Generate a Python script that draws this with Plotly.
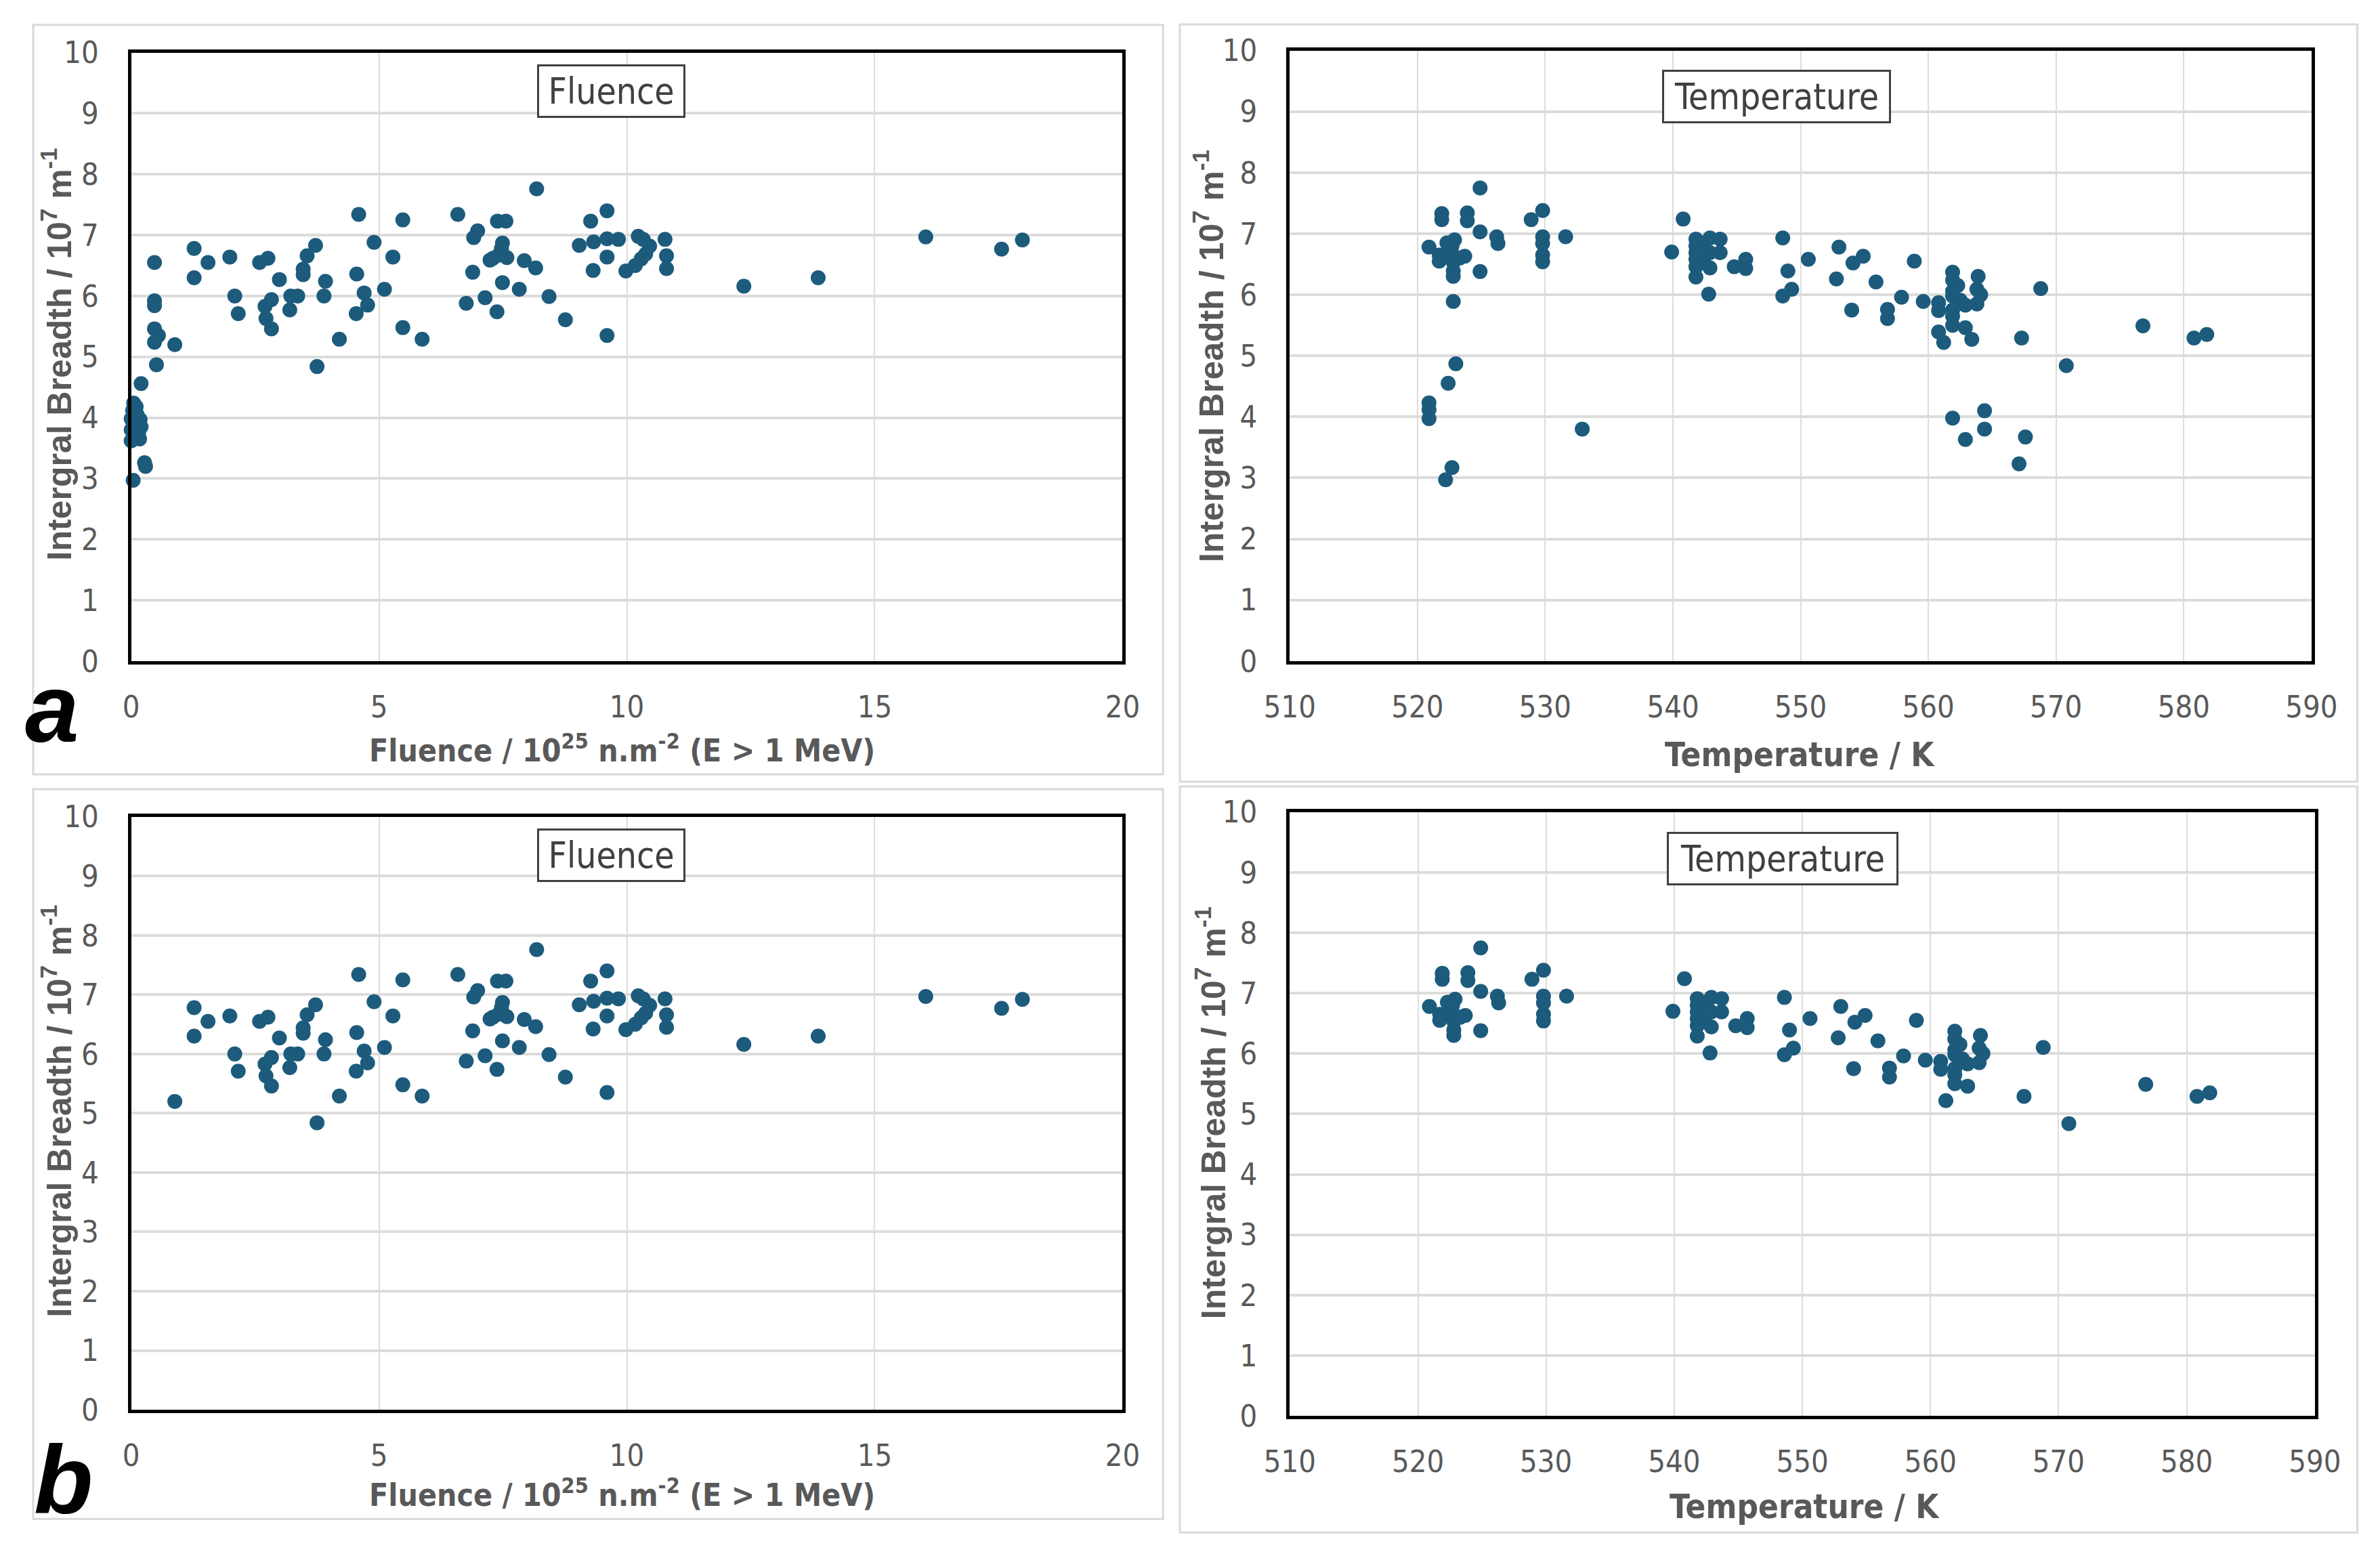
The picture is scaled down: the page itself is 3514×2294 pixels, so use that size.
import plotly.graph_objects as go

# ---- data (breadth in 10^7 m^-1) ----
# fluence points present in both panel a and panel b
fluence = [0.88, 1.27, 1.27, 1.55, 1.99, 2.09, 2.16, 2.59, 2.76, 2.99,
           3.47, 3.47, 3.55, 3.72, 3.92, 3.89, 3.75, 2.83, 2.70, 2.72,
           2.83, 3.22, 3.36, 3.20, 4.20, 4.59, 4.90, 4.55, 4.70, 4.77,
           4.54, 5.28, 5.11, 5.48, 5.48, 5.87, 6.59, 6.91, 6.99, 7.49,
           7.39, 7.56, 7.24, 7.41, 7.58, 7.93, 8.16, 8.18, 6.89, 7.49,
           7.83, 7.14, 6.76, 7.38, 8.43, 8.76, 9.60, 9.60, 9.27, 9.04,
           9.33, 9.60, 9.83, 9.60, 9.32, 10.23, 10.33, 10.46, 10.38, 10.29,
           10.17, 9.98, 10.77, 10.80, 10.80, 12.36, 13.86, 16.03, 17.56, 17.98,
           7.30, 7.47]
fluence_breadth = [5.20, 6.78, 6.30, 6.55, 6.64, 6.00, 5.71, 6.55, 6.62, 6.27,
                   6.44, 6.35, 6.66, 6.83, 6.24, 6.00, 4.84, 5.94, 5.83, 5.63,
                   5.46, 6.00, 6.00, 5.77, 5.29, 7.34, 6.88, 6.36, 6.05, 5.85,
                   5.71, 6.64, 6.11, 7.25, 5.48, 5.29, 7.34, 6.96, 7.07, 6.87,
                   7.23, 7.23, 6.59, 6.67, 6.63, 6.58, 6.46, 7.76, 6.39, 6.22,
                   6.11, 5.97, 5.88, 5.74, 5.99, 5.61, 5.35, 7.40, 7.23, 6.83,
                   6.89, 6.94, 6.93, 6.64, 6.42, 6.98, 6.93, 6.82, 6.69, 6.61,
                   6.50, 6.41, 6.93, 6.66, 6.45, 6.16, 6.30, 6.97, 6.77, 6.92,
                   6.62, 6.78]

# low-fluence points, shown only in panel a
fluence_low = [0.47, 0.47, 0.47, 0.47, 0.55, 0.47, 0.51, 0.20,
               0.05, 0.10, 0.03, 0.12, 0.00, 0.18, 0.05, 0.20, 0.00,
               0.15, 0.05, 0.17, 0.00, 0.27, 0.29, 0.04]
fluence_low_breadth = [6.55, 5.92, 5.84, 5.46, 5.35, 5.24, 4.87, 4.56,
                       4.24, 4.18, 4.12, 4.05, 3.98, 3.97, 3.90, 3.85, 3.80,
                       3.75, 3.68, 3.65, 3.62, 3.26, 3.20, 2.97]

# temperature points present in both panels
temperature = [524.9, 521.9, 521.9, 523.9, 523.9, 524.9, 526.2, 526.3, 520.9, 522.3,
               522.9, 522.7, 521.7, 522.2, 522.8, 523.7, 521.7, 522.8, 523.3, 522.8,
               522.8, 524.9, 528.9, 529.8, 529.8, 529.8, 529.8, 529.8, 531.6, 540.8,
               539.9, 541.8, 541.8, 541.8, 541.8, 541.8, 541.8, 542.4, 542.9, 543.7,
               542.9, 543.7, 542.4, 542.9, 542.8, 544.8, 545.7, 545.7, 548.6, 549.0,
               548.6, 549.3, 550.6, 553.0, 552.8, 554.1, 554.9, 554.0, 555.9, 556.8,
               556.8, 557.9, 558.9, 559.6, 560.8, 560.8, 561.2, 561.9, 561.9, 562.3,
               561.9, 561.9, 562.5, 562.9, 561.9, 561.9, 561.9, 562.9, 563.9, 563.8,
               564.1, 563.8, 568.8, 567.3, 570.8, 576.8, 580.8, 581.8]
temperature_breadth = [7.75, 7.33, 7.23, 7.34, 7.21, 7.03, 6.95, 6.84, 6.78, 6.85,
                       6.90, 6.80, 6.65, 6.65, 6.65, 6.63, 6.55, 6.53, 6.60, 6.39,
                       6.30, 6.38, 7.23, 7.38, 6.95, 6.84, 6.65, 6.54, 6.95, 7.24,
                       6.70, 6.91, 6.80, 6.69, 6.58, 6.46, 6.29, 6.85, 6.93, 6.91,
                       6.69, 6.69, 6.55, 6.44, 6.01, 6.46, 6.58, 6.43, 6.93, 6.39,
                       5.98, 6.09, 6.58, 6.78, 6.26, 6.52, 6.63, 5.75, 6.21, 5.76,
                       5.61, 5.96, 6.55, 5.89, 5.87, 5.74, 5.22, 6.37, 6.24, 6.15,
                       6.06, 5.98, 5.91, 5.83, 5.75, 5.65, 5.50, 5.46, 6.30, 6.09,
                       6.00, 5.85, 6.10, 5.29, 4.84, 5.49, 5.29, 5.35]

# temperature points belonging to the low-fluence samples (panel a only)
temperature_low = [523.0, 522.4, 520.9, 520.9, 520.9, 532.9, 522.7, 522.2, 561.9,
                   564.4, 564.4, 562.9, 567.6, 567.1, 522.8, 560.8, 563.4]
temperature_low_breadth = [4.87, 4.55, 4.23, 4.12, 3.97, 3.80, 3.17, 2.97, 3.98,
                           4.10, 3.80, 3.63, 3.67, 3.23, 5.89, 5.39, 5.27]

W, H = 3514, 2294
DOT = "#1c5b7c"
GREY = "#595959"
NARROW = "DejaVu Sans Condensed, Liberation Sans Narrow, Roboto Condensed, Liberation Sans, sans-serif"
WIDE = "Liberation Sans, Arial, sans-serif"

# the captured page comes out slightly shrunk and offset, so screen positions
# are mapped back to figure pixels before use
S, CX, CY = 0.982, 36.7, 28.2


def px_x(v):
    return max((v - CX) / S, 2) / W


def px_y(v):
    return 1 - max((v - CY) / S, 2) / H


def fs(v):
    return round(v / S)


fig = go.Figure()

panels = [
    # axis suffix, x data, y data, plot area on screen (px)
    ("", fluence + fluence_low, fluence_breadth + fluence_low_breadth, (184, 1654), (72, 975)),
    ("2", temperature + temperature_low, temperature_breadth + temperature_low_breadth, (1902, 3417), (69, 975)),
    ("3", fluence, fluence_breadth, (184, 1654), (1206, 2086)),
    ("4", temperature, temperature_breadth, (1902, 3422), (1199, 2095)),
]

for suffix, xs, ys, dx, dy in panels:
    fig.add_trace(go.Scatter(
        x=xs, y=ys, mode="markers", cliponaxis=False,
        marker=dict(color=DOT, size=22, line=dict(width=0)),
        xaxis="x" + suffix, yaxis="y" + suffix, showlegend=False,
    ))

axis_common = dict(
    showgrid=True, gridcolor="#dcdcdc", zeroline=False,
    showline=True, mirror=True, linecolor="black", linewidth=5,
    ticks="outside", tickcolor="rgba(0,0,0,0)",
    tickfont=dict(family=NARROW, size=fs(44), color=GREY),
)

layout = {}
for suffix, xs, ys, dx, dy in panels:
    is_temp = suffix in ("2", "4")
    layout["xaxis" + suffix] = dict(
        axis_common,
        domain=[px_x(dx[0]), px_x(dx[1])],
        range=[510, 590] if is_temp else [0, 20],
        tick0=510 if is_temp else 0, dtick=10 if is_temp else 5,
        gridwidth=2, ticklen=24,
        anchor="y" + suffix,
    )
    layout["yaxis" + suffix] = dict(
        axis_common,
        domain=[px_y(dy[1]), px_y(dy[0])],
        range=[0, 10], dtick=1, gridwidth=4, ticklen=34,
        anchor="x" + suffix,
    )

fig.update_layout(
    width=W, height=H,
    margin=dict(l=0, r=0, t=0, b=0),
    paper_bgcolor="white", plot_bgcolor="white",
    **layout,
)

# light grey frame around each panel
frames = [(31, 31, 1714, 1143), (1739, 27, 3485, 1154),
          (31, 1165, 1714, 2248), (1739, 1161, 3485, 2268)]
for x0, y0, x1, y1 in frames:
    fig.add_shape(type="rect", xref="paper", yref="paper",
                  x0=px_x(x0), x1=px_x(x1), y0=px_y(y1), y1=px_y(y0),
                  line=dict(color="#d9d9d9", width=3), layer="below")

ytitle = "Intergral Breadth / 10<sup>7</sup> m<sup>-1</sup>"
xtitle_f = "Fluence / 10<sup>25</sup> n.m<sup>-2</sup> (E > 1 MeV)"
xtitle_t = "Temperature / K"

for x, y in [(74, 520), (1782, 522), (74, 1643), (1786, 1645)]:
    fig.add_annotation(text=ytitle, xref="paper", yref="paper", x=px_x(x), y=px_y(y),
                       textangle=-90, showarrow=False, xanchor="center", yanchor="middle",
                       font=dict(family=WIDE, size=fs(49), color=GREY, weight="bold"))

for text, x, y, size in [(xtitle_f, 912, 1105, 45), (xtitle_t, 2658, 1114, 48),
                         (xtitle_f, 912, 2210, 45), (xtitle_t, 2665, 2230, 48)]:
    fig.add_annotation(text=text, xref="paper", yref="paper", x=px_x(x), y=px_y(y),
                       showarrow=False, xanchor="center", yanchor="middle",
                       font=dict(family=NARROW, size=fs(size), color=GREY, weight="bold"))

# boxed labels inside the plots
for text, x, y, w in [("Fluence", 896, 129, 205), ("Temperature", 2624, 137, 322),
                      ("Fluence", 896, 1263, 205), ("Temperature", 2633, 1268, 326)]:
    fig.add_annotation(text=text, xref="paper", yref="paper", x=px_x(x), y=px_y(y),
                       showarrow=False, xanchor="center", yanchor="middle",
                       width=fs(w), height=fs(68), bgcolor="white",
                       bordercolor="#404040", borderwidth=3, borderpad=2,
                       font=dict(family=NARROW, size=fs(52), color="#404040"))

# panel letters
for text, x, y in [("a", 67, 1045), ("b", 83, 2190)]:
    fig.add_annotation(text="<b><i>%s</i></b>" % text, xref="paper", yref="paper",
                       x=px_x(x), y=px_y(y), showarrow=False,
                       xanchor="center", yanchor="middle",
                       font=dict(family=WIDE, size=fs(140), color="black"))

fig.write_html("out.html")
